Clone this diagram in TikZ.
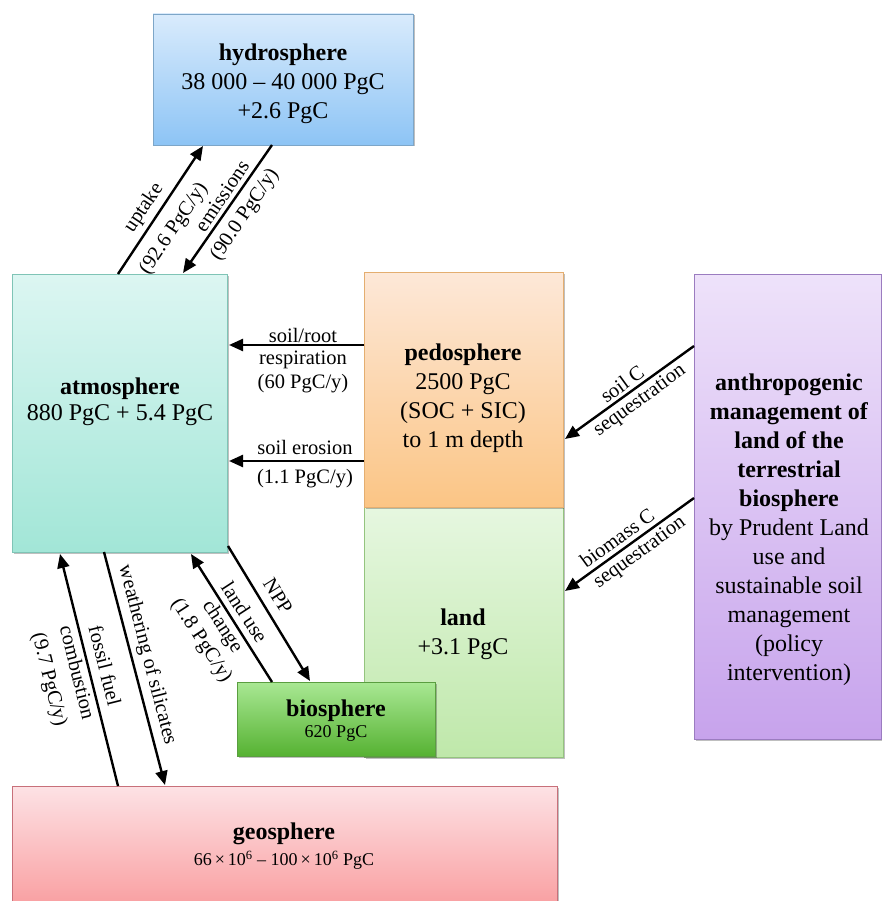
\documentclass[tikz,border=0pt]{standalone}
\usepackage{fontspec}
\setmainfont{Liberation Serif}
\usetikzlibrary{arrows.meta,calc,shadows}
\definecolor{hydT}{HTML}{D9EBFC}\definecolor{hydU}{HTML}{8DC4F5}\definecolor{hydD}{HTML}{7DA6C8}
\definecolor{atmT}{HTML}{DCF6F2}\definecolor{atmU}{HTML}{A2E6D7}\definecolor{atmD}{HTML}{7FC4B6}
\definecolor{pedT}{HTML}{FDE8D8}\definecolor{pedU}{HTML}{FBC585}\definecolor{pedD}{HTML}{E4AE70}
\definecolor{lndT}{HTML}{E6F7E0}\definecolor{lndU}{HTML}{BFE8AA}\definecolor{lndD}{HTML}{94C47E}
\definecolor{bioT}{HTML}{A9E894}\definecolor{bioU}{HTML}{56B232}\definecolor{bioD}{HTML}{5A9E40}
\definecolor{antT}{HTML}{EEE2FA}\definecolor{antU}{HTML}{C7A3EC}\definecolor{antD}{HTML}{9B7CC0}
\definecolor{geoT}{HTML}{FDE2E5}\definecolor{geoU}{HTML}{F9A0A2}\definecolor{geoD}{HTML}{C8707A}
\begin{document}
\begin{tikzpicture}[x=1pt,y=-1pt,
  box/.style={draw=#1, line width=0.9pt, inner sep=0pt, outer sep=0pt, anchor=north west,
    drop shadow={shadow xshift=1.5pt,shadow yshift=-1.5pt,opacity=0.25,fill=black}},
  arr/.style={line width=2.4pt, -{Triangle[length=14pt,width=12pt]}},
  big/.style={font=\fontsize{24}{29}\selectfont, align=center, inner sep=0pt},
  lbl/.style={font=\fontsize{20.5}{24.5}\selectfont, align=center, inner sep=0pt},
  sml/.style={font=\fontsize{18}{22}\selectfont, align=center, inner sep=0pt}]
\useasboundingbox (0,0) rectangle (882,901);
\fill[white] (0,0) rectangle (882,901);
% boxes
\node[box=hydD, top color=hydT, bottom color=hydU, minimum width=260pt, minimum height=131pt] (hyd) at (153,14) {};
\node[box=atmD, top color=atmT, bottom color=atmU, minimum width=215pt, minimum height=278pt] (atm) at (12,274) {};
\node[box=lndD, top color=lndT, bottom color=lndU, minimum width=199pt, minimum height=250pt] (land) at (364,507) {};
\node[box=pedD, top color=pedT, bottom color=pedU, minimum width=199pt, minimum height=235pt] (ped) at (364,272) {};
\node[box=antD, top color=antT, bottom color=antU, minimum width=187pt, minimum height=465pt] (anth) at (694,274) {};
\node[box=geoD, top color=geoT, bottom color=geoU, minimum width=545pt, minimum height=118pt] (geo) at (12,786) {};
\node[box=bioD, top color=bioT, bottom color=bioU, minimum width=198pt, minimum height=74pt] (bio) at (237,682) {};
% texts in boxes
\node[big] (hydX) at (283,84) {\textbf{hydrosphere}\\38 000 – 40 000 PgC\\+2.6 PgC};
\node[big] (atmX) at (120,402) {\textbf{atmosphere}\\[-3pt]880 PgC + 5.4 PgC};
\node[big] (pedX) at (463,398) {\textbf{pedosphere}\\2500 PgC\\(SOC + SIC)\\to 1 m depth};
\node[big] (landX) at (463,634) {\textbf{land}\\+3.1 PgC};
\node[big] (anthX) at (789,530) {\textbf{anthropogenic}\\\textbf{management of}\\\textbf{land of the}\\\textbf{terrestrial}\\\textbf{biosphere}\\by Prudent Land\\use and\\sustainable soil\\management\\(policy\\intervention)};
\node[big] (bioX) at (336,711) {\textbf{biosphere}};
\node[sml] (bioV) at (336,733) {620 PgC};
\node[big] (geoX) at (284,834) {\textbf{geosphere}};
\node[sml] (geoV) at (284,860) {66\,×\,10\textsuperscript{6} – 100\,×\,10\textsuperscript{6} PgC};
% arrows
\draw[arr] ($(atm.north west)+(106,0)$) -- ($(hyd.south west)+(50,1)$);
\draw[arr] ($(hyd.south west)+(119,0)$) -- ($(atm.north west)+(171,-1)$);
\draw[arr] ($(ped.north west)+(0,73)$) -- ($(atm.north east)+(2,71)$);
\draw[arr] ($(ped.north west)+(0,189)$) -- ($(atm.north east)+(2,187)$);
\draw[arr] ($(anth.north west)+(0,72)$) -- ($(ped.north east)+(2,167)$);
\draw[arr] ($(anth.north west)+(0,224)$) -- ($(land.north east)+(2,84)$);
\draw[arr] ($(atm.south east)+(1,-6)$) -- ($(bio.north west)+(73,-1)$);
\draw[arr] ($(bio.north west)+(35,0)$) -- ($(atm.south west)+(179,2)$);
\draw[arr] ($(geo.north west)+(106,0)$) -- ($(atm.south west)+(48,2)$);
\draw[arr] ($(atm.south west)+(92,0)$) -- ($(geo.north west)+(153,-1)$);
% labels
\node[lbl, rotate=56] (upA) at (144,208) {uptake};
\node[lbl, rotate=56] (upB) at (174,229) {(92.6 PgC/y)};
\node[lbl, rotate=56] (emA) at (222,196) {emissions};
\node[lbl, rotate=56] (emB) at (245,215) {(90.0 PgC/y)};
\node[lbl] (resA) at (303,335) {soil/root};
\node[lbl] (resB) at (303,372) {respiration\\(60 PgC/y)};
\node[lbl] (eroA) at (305,447) {soil erosion};
\node[lbl] (eroB) at (305,479) {(1.1 PgC/y)};
\node[lbl, rotate=36] (scA) at (622,384) {soil C};
\node[lbl, rotate=36] (scB) at (640,401) {sequestration};
\node[lbl, rotate=36] (bcA) at (617,538) {biomass C};
\node[lbl, rotate=36] (bcB) at (640,553) {sequestration};
\node[lbl, rotate=-58] (nppA) at (278,596) {NPP};
\node[lbl, rotate=-57, font=\fontsize{20.5}{25}\selectfont] (luA) at (222,627) {land use\\change\\(1.8 PgC/y)};
\node[lbl, rotate=-76, font=\fontsize{20.5}{28}\selectfont] (ffA) at (76,673) {fossil fuel\\combustion\\(9.7 PgC/y)};
\node[lbl, rotate=-75.5] (wsA) at (147,655) {weathering of silicates};
\end{tikzpicture}
\end{document}
